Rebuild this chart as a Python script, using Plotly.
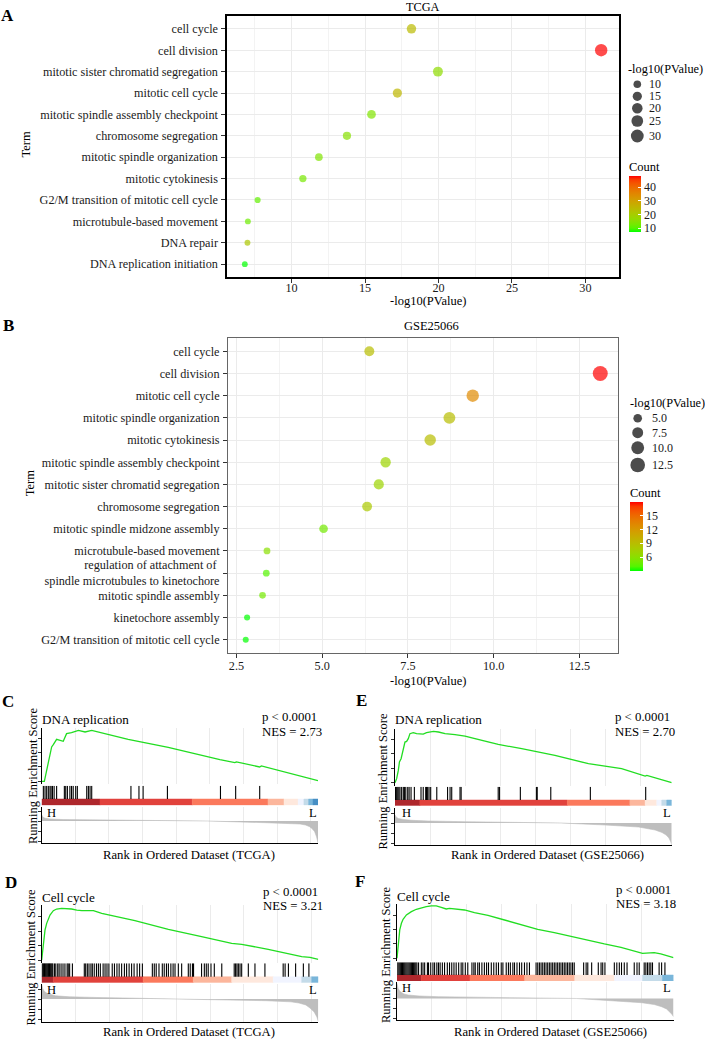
import numpy as np
import plotly.graph_objects as go

W, H = 705, 1040
FONT = "Liberation Serif"

# ---------------- Panel A : GO terms, TCGA ----------------
terms_A = ["cell cycle", "cell division", "mitotic sister chromatid segregation", "mitotic cell cycle",
           "mitotic spindle assembly checkpoint", "chromosome segregation", "mitotic spindle organization",
           "mitotic cytokinesis", "G2/M transition of mitotic cell cycle", "microtubule-based movement",
           "DNA repair", "DNA replication initiation"]
logp_A = [18.16, 31.07, 19.96, 17.2, 15.44, 13.77, 11.86, 10.77, 7.69, 7.03, 7.0, 6.82]
count_A = [24, 48, 16, 25, 14, 15, 14, 13, 11, 12, 21, 7]
size_legend_A = [10, 15, 20, 25, 30]
count_ticks_A = [10, 20, 30, 40]

# ---------------- Panel B : GO terms, GSE25066 ----------------
terms_B = ["cell cycle", "cell division", "mitotic cell cycle", "mitotic spindle organization",
           "mitotic cytokinesis", "mitotic spindle assembly checkpoint", "mitotic sister chromatid segregation",
           "chromosome segregation", "mitotic spindle midzone assembly", "microtubule-based movement",
           "regulation of attachment of <br>spindle microtubules to kinetochore", "mitotic spindle assembly",
           "kinetochore assembly", "G2/M transition of mitotic cell cycle"]
logp_B = [6.375, 13.11, 9.39, 8.71, 8.15, 6.85, 6.65, 6.31, 5.04, 3.39, 3.37, 3.26, 2.81, 2.77]
count_B = [9, 18, 13, 9, 9, 7, 7, 8, 5, 6, 4, 5, 3, 3]
size_legend_B = [5.0, 7.5, 10.0, 12.5]
count_ticks_B = [6, 9, 12, 15]

# ---------------- GSEA panels (positions as fraction of ranked gene list) ----------------
N_TCGA, N_GSE = 20530, 19760
# C: DNA replication, TCGA
C_f = [0, 0.0096, 0.018, 0.024, 0.030, 0.036, 0.042, 0.054, 0.078, 0.084, 0.090, 0.108, 0.127, 0.133,
       0.157, 0.181, 0.313, 0.361, 0.458, 0.645, 0.699, 0.705, 0.789, 0.795, 1.0]
C_es = [0, 0, 0.153, 0.269, 0.384, 0.477, 0.509, 0.583, 0.556, 0.616, 0.662, 0.676, 0.699, 0.708,
        0.685, 0.708, 0.583, 0.546, 0.472, 0.301, 0.259, 0.269, 0.199, 0.213, 0.01]
C_hits = [0.006, 0.012, 0.018, 0.024, 0.030, 0.034, 0.039, 0.045, 0.054, 0.082, 0.087, 0.093, 0.102,
          0.108, 0.114, 0.123, 0.129, 0.163, 0.169, 0.175, 0.181, 0.323, 0.352, 0.367, 0.455, 0.647,
          0.702, 0.789]
C_seg = [0, 0.211, 0.545, 0.819, 0.877, 0.928, 0.949, 0.966, 0.982, 1.0]
C_segcol = ["#A50F15", "#DE2D26", "#FB6A4A", "#FCAE91", "#FEE5D9", "#EFF3FF", "#BDD7E7", "#6BAED6", "#3182BD"]
C_rf = [0, 0.004, 0.012, 0.03, 0.08, 0.21, 0.4, 0.6, 0.81, 0.9, 0.935, 0.955, 0.97, 0.98, 0.988, 0.995, 1.0]
C_rm = [0.62, 0.4, 0.27, 0.2, 0.14, 0.1, 0.05, 0.0, -0.17, -0.24, -0.3, -0.4, -0.57, -0.8, -1.07, -1.6, -2.2]

# D: Cell cycle, TCGA
D_f = [0, 0.006, 0.012, 0.018, 0.024, 0.030, 0.042, 0.054, 0.072, 0.090, 0.108, 0.127, 0.145, 0.169,
       0.187, 0.217, 0.337, 0.458, 0.482, 0.578, 0.687, 0.723, 0.819, 0.880, 0.916, 0.940, 0.970, 1.0]
D_es = [0, 0.208, 0.417, 0.509, 0.579, 0.625, 0.685, 0.708, 0.718, 0.718, 0.708, 0.694, 0.685, 0.685,
        0.685, 0.648, 0.546, 0.426, 0.407, 0.324, 0.231, 0.218, 0.148, 0.093, 0.069, 0.046, 0.037, 0.009]
D_hits = [0.001, 0.004, 0.007, 0.010, 0.013, 0.016, 0.019, 0.022, 0.025, 0.028, 0.031, 0.034, 0.037, 0.040,
          0.046, 0.051, 0.058, 0.063, 0.070, 0.077, 0.084, 0.092, 0.096, 0.101, 0.111,
          0.154, 0.159, 0.165, 0.171, 0.178, 0.183, 0.190, 0.198, 0.205, 0.212, 0.222, 0.229, 0.236, 0.243,
          0.255, 0.263, 0.272, 0.280, 0.289, 0.299, 0.307, 0.316, 0.325, 0.334, 0.345, 0.354, 0.364,
          0.400, 0.407, 0.414, 0.424, 0.436, 0.443, 0.451, 0.458, 0.467, 0.475, 0.482, 0.494, 0.506,
          0.530, 0.537, 0.545, 0.549, 0.578, 0.588, 0.595, 0.602, 0.612, 0.624, 0.651,
          0.696, 0.701, 0.706, 0.711, 0.717, 0.723, 0.747, 0.771, 0.807,
          0.873, 0.880, 0.892, 0.918, 0.946, 0.966]
D_seg = [0, 0.042, 0.367, 0.548, 0.687, 0.837, 0.940, 0.976, 1.0]
D_segcol = ["#A50F15", "#DE2D26", "#FB6A4A", "#FCAE91", "#FEE5D9", "#EFF3FF", "#BDD7E7", "#6BAED6"]
D_rf = [0, 0.004, 0.01, 0.02, 0.05, 0.1, 0.2, 0.35, 0.5, 0.65, 0.81, 0.9, 0.93, 0.955, 0.97, 0.985, 0.995, 1.0]
D_rm = [1.45, 1.0, 0.75, 0.55, 0.32, 0.22, 0.15, 0.08, 0.04, -0.05, -0.17, -0.28, -0.4, -0.6, -0.9, -1.3, -1.8, -2.25]

# E: DNA replication, GSE25066
E_f = [0, 0.006, 0.012, 0.016, 0.022, 0.027, 0.030, 0.036, 0.042, 0.048, 0.054, 0.060, 0.066, 0.078,
       0.090, 0.102, 0.114, 0.127, 0.139, 0.157, 0.181, 0.217, 0.253, 0.289, 0.373, 0.458, 0.506, 0.578,
       0.699, 0.819, 0.904, 0.910, 1.0]
E_es = [0, 0.056, 0.171, 0.287, 0.333, 0.426, 0.495, 0.565, 0.574, 0.611, 0.681, 0.690, 0.694, 0.681,
        0.676, 0.676, 0.694, 0.704, 0.713, 0.704, 0.681, 0.667, 0.648, 0.611, 0.532, 0.472, 0.435, 0.380,
        0.264, 0.194, 0.093, 0.102, 0.0]
E_hits = [0.002, 0.006, 0.010, 0.014, 0.018, 0.024, 0.030, 0.034, 0.039, 0.046, 0.051, 0.058, 0.070,
          0.094, 0.102, 0.111, 0.114, 0.118, 0.123, 0.129, 0.151, 0.190, 0.199, 0.205, 0.235, 0.239,
          0.373, 0.378, 0.453, 0.511, 0.514, 0.563, 0.706, 0.906]
E_seg = [0, 0.090, 0.623, 0.849, 0.904, 0.946, 0.964, 0.982, 1.0]
E_segcol = ["#A50F15", "#DE2D26", "#FB6A4A", "#FCAE91", "#FEE5D9", "#EFF3FF", "#BDD7E7", "#6BAED6"]
E_rf = [0, 0.004, 0.012, 0.03, 0.06, 0.12, 0.25, 0.45, 0.6, 0.76, 0.88, 0.94, 0.965, 0.98, 0.99, 0.997, 1.0]
E_rm = [0.8, 0.6, 0.45, 0.35, 0.27, 0.2, 0.13, 0.05, 0.0, -0.2, -0.4, -0.7, -0.95, -1.2, -1.5, -1.9, -2.2]

# F: Cell cycle, GSE25066
F_f = [0, 0.004, 0.010, 0.016, 0.022, 0.034, 0.052, 0.070, 0.088, 0.106, 0.124, 0.142, 0.160, 0.178,
       0.190, 0.208, 0.244, 0.280, 0.329, 0.389, 0.449, 0.509, 0.569, 0.629, 0.690, 0.750, 0.810, 0.870,
       0.888, 0.930, 0.954, 1.0]
F_es = [0, 0.208, 0.394, 0.486, 0.542, 0.602, 0.648, 0.681, 0.704, 0.718, 0.727, 0.727, 0.708, 0.685,
        0.694, 0.685, 0.671, 0.634, 0.597, 0.532, 0.463, 0.403, 0.356, 0.301, 0.245, 0.199, 0.153, 0.093,
        0.069, 0.079, 0.060, 0.009]
F_hits = [0.000, 0.004, 0.008, 0.012, 0.016, 0.020, 0.024, 0.028, 0.032, 0.036, 0.040, 0.044, 0.048, 0.052,
          0.056, 0.060, 0.064, 0.068, 0.072, 0.078,
          0.088, 0.094, 0.100, 0.110, 0.114, 0.122, 0.130, 0.136, 0.144, 0.150, 0.156, 0.164, 0.172, 0.182,
          0.190, 0.198, 0.206, 0.214, 0.223, 0.232, 0.238, 0.247, 0.256,
          0.271, 0.278, 0.283, 0.292, 0.298, 0.307, 0.316, 0.324, 0.331, 0.341, 0.350, 0.359, 0.367, 0.377,
          0.383, 0.395, 0.403, 0.410, 0.419, 0.425, 0.434, 0.443, 0.451, 0.461, 0.470, 0.479,
          0.503, 0.509, 0.515, 0.521, 0.527, 0.533, 0.539, 0.545, 0.551, 0.557, 0.563, 0.569, 0.575, 0.581,
          0.587, 0.593, 0.599, 0.605, 0.611, 0.617, 0.623, 0.629, 0.635, 0.641,
          0.675, 0.684, 0.690, 0.704, 0.728, 0.738, 0.744, 0.752,
          0.786, 0.795, 0.804, 0.812, 0.822, 0.832, 0.858, 0.868, 0.876,
          0.894, 0.900, 0.906, 0.912, 0.918, 0.924, 0.948, 0.957, 0.969]
F_seg = [0, 0.088, 0.264, 0.462, 0.643, 0.787, 0.888, 0.960, 1.0]
F_segcol = ["#A50F15", "#DE2D26", "#FB6A4A", "#FCAE91", "#FEE5D9", "#EFF3FF", "#BDD7E7", "#6BAED6"]
F_rf = [0, 0.004, 0.011, 0.025, 0.04, 0.08, 0.15, 0.3, 0.5, 0.65, 0.777, 0.885, 0.93, 0.957, 0.975, 0.986, 0.995, 1.0]
F_rm = [1.5, 1.0, 0.7, 0.45, 0.35, 0.25, 0.18, 0.1, 0.05, 0.0, -0.22, -0.42, -0.6, -0.82, -1.05, -1.32, -1.6, -1.82]


# ---------------- colour helpers (ggplot-like Lab gradient) ----------------
def _hex2lab(hexc):
    rgb = [int(hexc[i:i + 2], 16) / 255 for i in (1, 3, 5)]
    lin = [c / 12.92 if c <= 0.04045 else ((c + 0.055) / 1.055) ** 2.4 for c in rgb]
    r, g, b = lin
    X = (0.4124564 * r + 0.3575761 * g + 0.1804375 * b) / 0.95047
    Y = (0.2126729 * r + 0.7151522 * g + 0.0721750 * b)
    Z = (0.0193339 * r + 0.1191920 * g + 0.9503041 * b) / 1.08883
    f = lambda t: t ** (1 / 3) if t > 0.008856 else 7.787 * t + 16 / 116
    fx, fy, fz = f(X), f(Y), f(Z)
    return 116 * fy - 16, 500 * (fx - fy), 200 * (fy - fz)


def _lab2hex(L, a, b):
    fy = (L + 16) / 116
    fx = fy + a / 500
    fz = fy - b / 200
    finv = lambda t: t ** 3 if t ** 3 > 0.008856 else (t - 16 / 116) / 7.787
    X, Y, Z = 0.95047 * finv(fx), finv(fy), 1.08883 * finv(fz)
    r = 3.2404542 * X - 1.5371385 * Y - 0.4985314 * Z
    g = -0.9692660 * X + 1.8760108 * Y + 0.0415560 * Z
    bb = 0.0556434 * X - 0.2040259 * Y + 1.0572252 * Z

    def gam(c):
        c = min(1.0, max(0.0, c))
        return 12.92 * c if c <= 0.0031308 else 1.055 * c ** (1 / 2.4) - 0.055
    return "#%02x%02x%02x" % tuple(int(round(gam(c) * 255)) for c in (r, g, bb))


def lab_scale(c0, c1, n=16):
    l0, l1 = np.array(_hex2lab(c0)), np.array(_hex2lab(c1))
    return [[i / (n - 1), _lab2hex(*(l0 + (l1 - l0) * i / (n - 1)))] for i in range(n)]


def blend(hexc, alpha=0.9):
    rgb = [int(hexc[i:i + 2], 16) for i in (1, 3, 5)]
    return "#%02x%02x%02x" % tuple(int(round(c * alpha + 255 * (1 - alpha))) for c in rgb)


CS = lab_scale("#00FF00", "#FF0000")

# ---------------- figure scaffolding ----------------
fig = go.Figure()
layout = {}
annotations = []
shapes = []
_n = [0]


def new_axes(xdom, ydom, xkw, ykw):
    _n[0] += 1
    s = "" if _n[0] == 1 else str(_n[0])
    layout["xaxis" + s] = dict(domain=xdom, anchor="y" + s, fixedrange=True, **xkw)
    layout["yaxis" + s] = dict(domain=ydom, anchor="x" + s, fixedrange=True, **ykw)
    return "x" + s, "y" + s


def text(x, y, s, size=12.5, xanchor="left", angle=0, color="black"):
    annotations.append(dict(x=x / W, y=1 - y / H, xref="paper", yref="paper", text=s, showarrow=False,
                            xanchor=xanchor, yanchor="middle", textangle=angle,
                            font=dict(family=FONT, size=size, color=color)))


def diam_fn(vals, lo, hi):
    smin, smax = np.sqrt(min(vals)), np.sqrt(max(vals))
    return lambda v: lo + (hi - lo) * (np.sqrt(v) - smin) / (smax - smin)


TICKFONT = dict(family=FONT, size=12.2, color="#1a1a1a")


def dot_panel(terms, logp, counts, box, dtick, minor, tickfmt, dfun, border, bw, cb, xstand):
    left, right, top, bottom = box
    span = max(logp) - min(logp)
    n = len(terms)
    xa, ya = new_axes(
        [left / W, right / W], [1 - bottom / H, 1 - top / H],
        dict(range=[min(logp) - 0.05 * span, max(logp) + 0.05 * span], tick0=0, dtick=dtick,
             tickformat=tickfmt, showgrid=True, gridcolor="#EBEBEB", gridwidth=1,
             minor=dict(tick0=0, dtick=minor, showgrid=True, gridcolor="#F0F0F0", gridwidth=0.8),
             showline=True, mirror=True, linecolor=border, linewidth=bw, ticks="outside", ticklen=4,
             tickcolor="#333", tickwidth=1, zeroline=False, tickfont=TICKFONT, ticklabelstandoff=xstand),
        dict(type="category", categoryorder="array", categoryarray=terms, range=[n - 1 + 0.6, -0.6],
             showgrid=True, gridcolor="#EBEBEB", gridwidth=1, showline=True, mirror=True,
             linecolor=border, linewidth=bw, ticks="outside", ticklen=4, tickcolor="#333",
             tickwidth=1, zeroline=False, tickfont=TICKFONT, ticklabelstandoff=1))
    cmin, cmax, cbx, cbtop, cbbot, cbthick, cbticks = cb
    fig.add_trace(go.Scatter(
        x=logp, y=terms, xaxis=xa, yaxis=ya, mode="markers", showlegend=False, hoverinfo="skip",
        marker=dict(size=[dfun(v) for v in logp], color=counts, colorscale=CS, cmin=cmin, cmax=cmax,
                    line=dict(width=0), showscale=True,
                    colorbar=dict(x=cbx / W, xanchor="left", y=1 - (cbtop + cbbot) / 2 / H, yanchor="middle",
                                  len=cbbot - cbtop, lenmode="pixels", thickness=cbthick,
                                  thicknessmode="pixels", xpad=0, ypad=0, outlinewidth=0,
                                  ticks="inside", ticklen=3, tickcolor="white", tickwidth=1,
                                  tickvals=cbticks, tickfont=dict(family=FONT, size=12, color="#1a1a1a")))))


ES_PX = 72.0


def gsea_panel(g, f_es, es, hits, seg, segcol, rf, rm):
    xdom = [g["left"] / W, g["right"] / W]
    xkw = dict(range=[0, 1], tick0=0, dtick=g["grid"], showgrid=True, gridcolor="#EBEBEB", gridwidth=1,
               showticklabels=False, ticks="", zeroline=False, showline=False)
    es_bot = g["es_zero"] + 0.04 * ES_PX
    es_hi = (g["es_zero"] - g["es_top"]) / ES_PX
    xa, ya = new_axes(xdom, [1 - es_bot / H, 1 - g["es_top"] / H], xkw,
                      dict(range=[-0.04, es_hi], tick0=0, dtick=0.2, showticklabels=False, ticks="outside",
                           ticklen=3, tickcolor="#333", showline=True, linecolor="black", linewidth=1,
                           showgrid=False, zeroline=False))
    fig.add_trace(go.Scatter(x=f_es, y=es, xaxis=xa, yaxis=ya, mode="lines", showlegend=False,
                             hoverinfo="skip", line=dict(color="#22dd22", width=1.3)))
    # hits + colour bar
    cbf = (g["cb_bot"] - g["cb_top"]) / (g["cb_bot"] - g["hits_top"])
    xa, ya = new_axes(xdom, [1 - g["cb_bot"] / H, 1 - g["hits_top"] / H],
                      dict(range=[0, 1], visible=False), dict(range=[0, 1], visible=False))
    hx, hy = [], []
    for h in hits:
        hx += [h, h, None]
        hy += [cbf, 1, None]
    fig.add_trace(go.Scatter(x=hx, y=hy, xaxis=xa, yaxis=ya, mode="lines", showlegend=False,
                             hoverinfo="skip", line=dict(color="black", width=1.1)))
    for a, b, c in zip(seg[:-1], seg[1:], segcol):
        cc = blend(c)
        shapes.append(dict(type="rect", xref=xa, yref=ya, x0=a, x1=b, y0=0, y1=cbf, fillcolor=cc,
                           line=dict(color=cc, width=0.5), layer="below"))
    # ranked list metric
    xa, ya = new_axes(xdom, [1 - g["rank_bot"] / H, 1 - g["rank_top"] / H],
                      dict(xkw, showline=True, linecolor="black", linewidth=1),
                      dict(range=g["rank_range"], tick0=0, dtick=1, showticklabels=False, ticks="outside",
                           ticklen=3, tickcolor="#333", showline=True, linecolor="black", linewidth=1,
                           showgrid=False, zeroline=False))
    fig.add_trace(go.Scatter(x=rf, y=rm, xaxis=xa, yaxis=ya, mode="lines", fill="tozeroy",
                             fillcolor="#BEBEBE", showlegend=False, hoverinfo="skip",
                             line=dict(color="#BEBEBE", width=0.6)))


# ---------------- Panel A ----------------
dA = diam_fn(logp_A, 5.8, 12.4)
dot_panel(terms_A, logp_A, count_A, (227, 619, 16, 277), 5, 2.5, "d", dA, "black", 1.6,
          (min(count_A), max(count_A), 629.3, 176, 232.3, 12, count_ticks_A), -5)
# ---------------- Panel B ----------------
dB = diam_fn(logp_B, 6.0, 15.0)
dot_panel(terms_B, logp_B, count_B, (228, 618, 338, 653), 2.5, 1.25, ".1f", dB, "#666666", 1.0,
          (min(count_B), max(count_B), 630, 502, 570.7, 13, count_ticks_B), -3)

# ---------------- GSEA panels ----------------
gC = dict(left=41.7, right=318, es_top=728, es_zero=781.3, hits_top=785.7, cb_top=799, cb_bot=805.3,
          rank_top=806.7, rank_bot=843.3, rank_range=[-2.23, 1.43], grid=2500 / N_TCGA)
gD = dict(left=41.7, right=318.3, es_top=905, es_zero=960, hits_top=963.3, cb_top=976.7, cb_bot=982.7,
          rank_top=984.3, rank_bot=1021.7, rank_range=[-2.27, 1.47], grid=2500 / N_TCGA)
gE = dict(left=395, right=671.7, es_top=729, es_zero=782.7, hits_top=786.7, cb_top=800, cb_bot=805.7,
          rank_top=808, rank_bot=845, rank_range=[-2.2, 1.5], grid=2500 / N_GSE)
gF = dict(left=397, right=673.5, es_top=904, es_zero=958.3, hits_top=962.3, cb_top=975, cb_bot=981,
          rank_top=982.3, rank_bot=1020, rank_range=[-2.15, 1.62], grid=2500 / N_GSE)
gsea_panel(gC, C_f, C_es, C_hits, C_seg, C_segcol, C_rf, C_rm)
gsea_panel(gD, D_f, D_es, D_hits, D_seg, D_segcol, D_rf, D_rm)
gsea_panel(gE, E_f, E_es, E_hits, E_seg, E_segcol, E_rf, E_rm)
gsea_panel(gF, F_f, F_es, F_hits, F_seg, F_segcol, F_rf, F_rm)

# ---------------- size legends on a page-pixel overlay axis ----------------
xo, yo = new_axes([0, 1], [0, 1], dict(range=[0, W], visible=False), dict(range=[H, 0], visible=False))
legA_y = [84.3, 96.3, 108.3, 121, 136]
legB_y = [418.3, 432.7, 447.7, 465]
fig.add_trace(go.Scatter(x=[637.3] * len(size_legend_A), y=legA_y, xaxis=xo, yaxis=yo, mode="markers",
                         showlegend=False, hoverinfo="skip",
                         marker=dict(color="black", size=[dA(v) + 0.6 for v in size_legend_A], line=dict(width=0))))
fig.add_trace(go.Scatter(x=[637.7] * len(size_legend_B), y=legB_y, xaxis=xo, yaxis=yo, mode="markers",
                         showlegend=False, hoverinfo="skip",
                         marker=dict(color="black", size=[dB(v) for v in size_legend_B], line=dict(width=0))))
for v, yy in zip(size_legend_A, legA_y):
    text(646.5, yy, str(v), 12, color="#1a1a1a")
for v, yy in zip(size_legend_B, legB_y):
    text(650, yy, "%.1f" % v, 12, color="#1a1a1a")
text(625.5, 69, "-log10(PValue)", 12.3)
text(627, 166.7, "Count", 12.5)
text(627.5, 403.3, "-log10(PValue)", 12.3)
text(628, 492.7, "Count", 12.5)

# ---------------- titles / labels ----------------
for lab, x, y in [("A", 7.5, 15.3), ("B", 8.3, 325.8), ("C", 7.5, 701.5), ("D", 10.8, 882.5),
                  ("E", 361.7, 700.8), ("F", 360, 881.7)]:
    text(x, y, "<b>%s</b>" % lab, 17, xanchor="center")
text(423, 7, "TCGA", 12.3, xanchor="center")
text(428, 300.5, "-log10(PValue)", 12.5, xanchor="center")
text(25.5, 144, "Term", 12.5, xanchor="center", angle=-90)
text(431, 325.7, "GSE25066", 12.5, xanchor="center")
text(428, 681, "-log10(PValue)", 12.5, xanchor="center")
text(30, 483.3, "Term", 12.5, xanchor="center", angle=-90)

gsea_txt = [
    ("DNA replication", (39.7, 719), (260, 717), "NES = 2.73", (260, 731.5), (51.7, 812.7), (313, 812.7),
     "Rank in Ordered Dataset (TCGA)", (189, 855), (32.5, 775.5)),
    ("DNA replication", (393.3, 719.3), (613, 717), "NES = 2.70", (613, 731.5), (406.7, 812.7), (666.7, 812.7),
     "Rank in Ordered Dataset (GSE25066)", (547, 855), (382.5, 781)),
    ("Cell cycle", (39.7, 897), (261, 891.7), "NES = 3.21", (261, 906), (51.7, 990), (312.7, 990),
     "Rank in Ordered Dataset (TCGA)", (189, 1032.3), (30, 957.5)),
    ("Cell cycle", (395, 896), (613.5, 890), "NES = 3.18", (613.5, 904.3), (406.7, 988.3), (667.3, 988.3),
     "Rank in Ordered Dataset (GSE25066)", (550, 1031.7), (386, 955)),
]
for t, tp, pp, nes, npos, hp, lp, rt, rp, yp in gsea_txt:
    text(tp[0], tp[1], t, 13.1)
    text(pp[0], pp[1], "p &lt; 0.0001", 12.8)
    text(npos[0], npos[1], nes, 12.8)
    text(hp[0], hp[1], "H", 12.6, xanchor="center")
    text(lp[0], lp[1], "L", 12.6, xanchor="center")
    text(rp[0], rp[1], rt, 12.7, xanchor="center")
    text(yp[0], yp[1], "Running Enrichment Score", 12.5, xanchor="center", angle=-90)

fig.update_layout(**layout)
fig.update_layout(width=W, height=H, autosize=False, template="none",
                  margin=dict(l=0, r=0, t=0, b=0, autoexpand=False),
                  paper_bgcolor="white", plot_bgcolor="rgba(0,0,0,0)",
                  font=dict(family=FONT, size=12.5, color="black"),
                  showlegend=False, annotations=annotations, shapes=shapes, hovermode=False)
fig.write_html("out.html", config={"displayModeBar": False, "staticPlot": True},
               post_script="document.body.style.margin='0';document.body.style.padding='0';"
                           "document.body.style.overflow='hidden';")
